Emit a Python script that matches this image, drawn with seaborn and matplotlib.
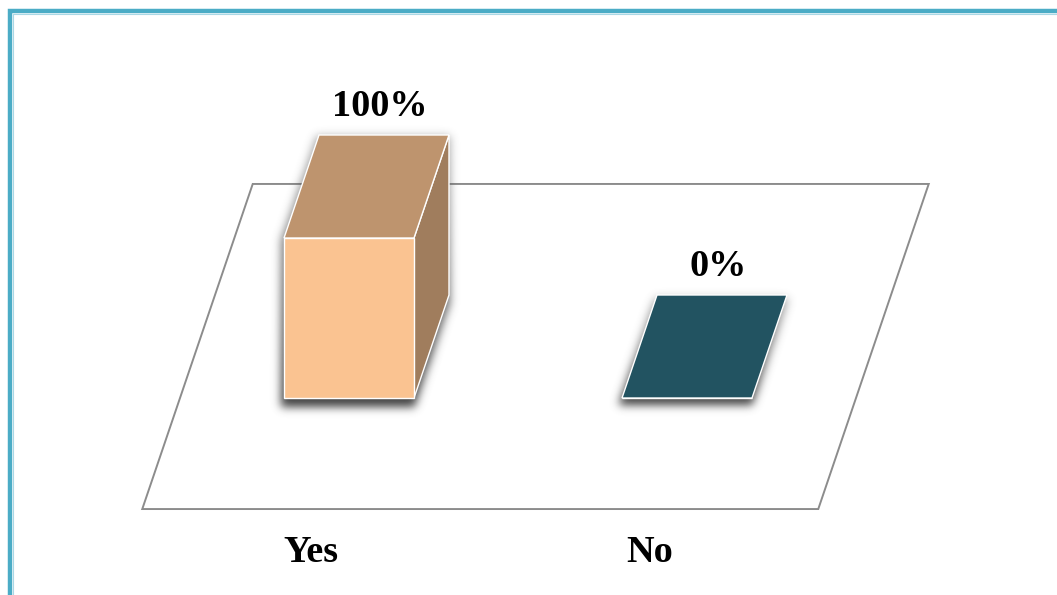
import numpy as np
import matplotlib
matplotlib.use("Agg")
import matplotlib.pyplot as plt
from matplotlib.patches import Polygon
from matplotlib.lines import Line2D
from matplotlib.path import Path
import seaborn as sns

# ---- data ----
categories = ["Yes", "No"]
values = [100, 0]
value_labels = ["100%", "0%"]

# ---- style ----
front_colors = ["#FAC391", "#2D6D80"]
TOP_SHADE = 0.76
SIDE_SHADE = 0.64
FLOOR_EDGE = "#8C8C8C"
BORDER = "#4BACC6"
BORDER_LIGHT = "#A9D8E5"
FONT = dict(family="Liberation Serif", weight="bold", size=27.5, color="black")

W, H, DPI = 1057, 595, 100

# layout of the pseudo-3D scene (pixels)
px_per_cat = 338.0      # horizontal distance between category slots
px_per_pct = 1.6        # vertical pixels per percentage point
origin_px = (349.0, 398.0)   # category 0, value 0, front plane (from top-left)
depth_px = (35.0, 103.0)     # bar depth vector (right, up)
floor_margin = 1.078         # floor extends this many bar depths in front/behind
bar_width = 130.0 / px_per_cat

sns.set_theme(style="white")

fig = plt.figure(figsize=(W / DPI, H / DPI), dpi=DPI)
fig.patch.set_facecolor("white")
ax = fig.add_axes([0, 0, 1, 1])

sns.barplot(x=categories, y=values, hue=categories, palette=front_colors,
            saturation=1, width=bar_width, legend=False, ax=ax,
            edgecolor="white", linewidth=1.0, zorder=4)

xlim = (-origin_px[0] / px_per_cat, (W - origin_px[0]) / px_per_cat)
ylim = (-(H - origin_px[1]) / px_per_pct, origin_px[1] / px_per_pct)
ax.set_xlim(*xlim)
ax.set_ylim(*ylim)
ax.axis("off")

dx = depth_px[0] / px_per_cat
dy = depth_px[1] / px_per_pct


def shade(color, k):
    r, g, b = matplotlib.colors.to_rgb(color)
    return (r * k, g * k, b * k)


# floor plane
fx0, fx1 = -0.5, len(categories) - 0.5
front_y = -floor_margin * dy
back_y = (1 + floor_margin) * dy
floor = Polygon([(fx0 - floor_margin * dx, front_y),
                 (fx1 - floor_margin * dx, front_y),
                 (fx1 + (1 + floor_margin) * dx, back_y),
                 (fx0 + (1 + floor_margin) * dx, back_y)],
                closed=True, facecolor="white", edgecolor=FLOOR_EDGE,
                linewidth=1.4, zorder=1)
ax.add_patch(floor)

bars = list(ax.patches)[:len(categories)]

# soft drop shadow under each bar, rendered as a blurred raster
yy, xx = np.mgrid[0:H, 0:W]
pix = np.column_stack([xx.ravel() + 0.5, (H - yy.ravel() - 0.5)])
mask = np.zeros((H, W))
ramp = np.zeros((H, W))
for bar in bars:
    x0, w, h = bar.get_x(), bar.get_width(), bar.get_height()
    if h > 0:
        outline = [(x0, 0), (x0 + w, 0), (x0 + w + dx, dy),
                   (x0 + w + dx, h + dy), (x0 + dx, h + dy), (x0, h)]
    else:
        outline = [(x0, 0), (x0 + w, 0), (x0 + w + dx, dy), (x0 + dx, dy)]
    disp = ax.transData.transform(outline)
    # spread the silhouette a little before blurring
    cx, cy = disp.mean(axis=0)
    disp[:, 0] = cx + (disp[:, 0] - cx) * 1.03
    disp[:, 1] = cy + (disp[:, 1] - cy) * 1.03
    disp[:, 0] -= 1.0
    disp[:, 1] -= 5.0
    inside = Path(disp).contains_points(pix).reshape(H, W)
    mask = np.maximum(mask, inside.astype(float))
    top = H - disp[:, 1].max()
    bottom = H - disp[:, 1].min()
    r = np.clip((yy - top) / max(bottom - top, 1), 0, 1)
    ramp = np.maximum(ramp, np.where(
        (xx > disp[:, 0].min() - 40) & (xx < disp[:, 0].max() + 40),
        0.45 + 0.55 * r, 0))


def blur(a, sigma):
    rad = int(3 * sigma)
    t = np.arange(-rad, rad + 1)
    k = np.exp(-t ** 2 / (2 * sigma ** 2))
    k /= k.sum()
    a = np.apply_along_axis(lambda v: np.convolve(v, k, mode="same"), 0, a)
    a = np.apply_along_axis(lambda v: np.convolve(v, k, mode="same"), 1, a)
    return a


soft = blur(mask, 4.5)
rgba = np.zeros((H, W, 4))
rgba[..., :3] = 0.32
rgba[..., 3] = np.clip(soft * ramp * 1.1, 0, 1)
ax.imshow(rgba, extent=(xlim[0], xlim[1], ylim[0], ylim[1]), origin="upper",
          aspect="auto", interpolation="nearest", zorder=2)
ax.set_xlim(*xlim)
ax.set_ylim(*ylim)

# top and side faces of each bar
for bar, color, label in zip(bars, front_colors, value_labels):
    x0, w, h = bar.get_x(), bar.get_width(), bar.get_height()
    if h > 0:
        side = Polygon([(x0 + w, 0), (x0 + w + dx, dy),
                        (x0 + w + dx, h + dy), (x0 + w, h)],
                       closed=True, facecolor=shade(color, SIDE_SHADE),
                       edgecolor="white", linewidth=1.0, zorder=3)
        ax.add_patch(side)
    top = Polygon([(x0, h), (x0 + w, h), (x0 + w + dx, h + dy),
                   (x0 + dx, h + dy)],
                  closed=True, facecolor=shade(color, TOP_SHADE),
                  edgecolor="white", linewidth=1.0, zorder=5)
    ax.add_patch(top)
    ax.annotate(label, xy=(x0 + dx + w / 2, h + dy), xytext=(-3, 8),
                textcoords="offset points", ha="center", va="bottom",
                zorder=6, **FONT)

# category labels under the front edge of the floor
for i, cat in enumerate(categories):
    ax.annotate(cat, xy=(i - floor_margin * dx, front_y), xytext=(0, -31),
                textcoords="offset points", ha="center", va="center",
                zorder=6, **FONT)

# chart frame (top and left edges visible)
def fx(p):
    return p / W


def fy(p):
    return 1 - p / H


fig.add_artist(Line2D([fx(10), fx(10), fx(W + 10)], [fy(H + 10), fy(11), fy(11)],
                      transform=fig.transFigure, color=BORDER, linewidth=3.2,
                      solid_joinstyle="miter"))
fig.add_artist(Line2D([fx(13), fx(13), fx(W + 10)], [fy(H + 10), fy(13.6), fy(13.6)],
                      transform=fig.transFigure, color=BORDER_LIGHT, linewidth=0.8))

fig.savefig("out.png", dpi=DPI, facecolor="white")
